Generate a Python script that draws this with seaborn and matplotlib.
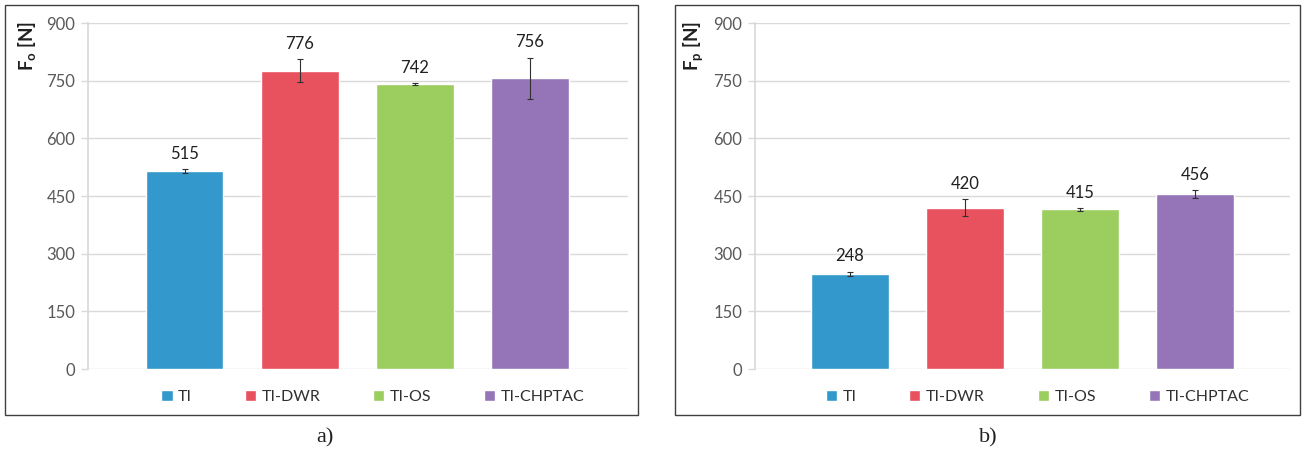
import numpy as np
import pandas as pd
import matplotlib
matplotlib.use("Agg")
import matplotlib.pyplot as plt
import seaborn as sns
from matplotlib.patches import Rectangle

# === Données ===
samples = ["TI", "TI-DWR", "TI-OS", "TI-CHPTAC"]
fo_mean = [515, 776, 742, 756]
fo_sd = [4, 30, 2, 54]
fp_mean = [248, 420, 415, 456]
fp_sd = [5, 22, 3, 10]
y_ticks = [0, 150, 300, 450, 600, 750, 900]
panel_labels = ["a)", "b)"]
y_labels = [r"$\mathbf{F_o}$ [N]", r"$\mathbf{F_p}$ [N]"]

colors = ["#3399cc", "#e8525e", "#9bcd5f", "#9575b8"]

# === Style ===
sns.set_theme(style="white")
plt.rcParams["font.family"] = ["Lato", "DejaVu Sans"]
plt.rcParams["mathtext.fontset"] = "custom"
plt.rcParams["mathtext.bf"] = "Lato:bold"
plt.rcParams["mathtext.rm"] = "Lato"

W, H = 1305, 451
fig = plt.figure(figsize=(W / 100, H / 100), dpi=100)

# axes placement (pixels -> figure fraction)
ax_a = fig.add_axes([88 / W, 1 - 369 / H, 540 / W, 346 / H])
ax_b = fig.add_axes([755 / W, 1 - 369 / H, 535 / W, 346 / H])

panels = [
    (ax_a, fo_mean, fo_sd, panel_labels[0], y_labels[0], (-0.843, 3.852), (5, 638), 325),
    (ax_b, fp_mean, fp_sd, panel_labels[1], y_labels[1], (-0.826, 3.826), (675, 1300), 988),
]

for ax, means, sds, plabel, ylab, xlim, frame_x, lab_x in panels:
    df = pd.DataFrame({"sample": samples, "force": means})
    sns.barplot(data=df, x="sample", y="force", hue="sample", palette=colors,
                saturation=1, width=0.67, errorbar=None, legend=True, ax=ax, zorder=3)
    ax.errorbar(np.arange(len(samples)), means, yerr=sds, fmt="none",
                ecolor="#303030", elinewidth=0.8, capsize=2, capthick=0.8, zorder=4)

    for i, (v, e) in enumerate(zip(means, sds)):
        ax.annotate(f"{v}", xy=(i, v + e), xytext=(0, 11), textcoords="offset points",
                    ha="center", va="center", fontsize=12, color="#202020")

    ax.set_ylim(0, 900)
    ax.set_yticks(y_ticks)
    ax.set_xlim(*xlim)
    ax.set_xticks([])
    ax.set_xlabel("")
    ax.yaxis.grid(True, color="#d9d9d9", lw=1, zorder=0)
    ax.set_axisbelow(True)
    for s in ["top", "right", "bottom"]:
        ax.spines[s].set_visible(False)
    ax.spines["left"].set_color("#d9d9d9")
    ax.tick_params(axis="y", left=True, length=5, width=1, color="#d9d9d9",
                   labelsize=12, labelcolor="#595959", pad=4)

    ax.set_ylabel(ylab, fontsize=13.5, fontweight="bold", color="#202020")
    ax.yaxis.set_label_coords(-0.093, 0.934)

    sns.move_legend(ax, "center", bbox_to_anchor=(0.528, -0.081), ncol=4, frameon=False,
                    title=None, handlelength=0.7, handleheight=0.7, handletextpad=0.35,
                    columnspacing=3.3, fontsize=11.5, labelcolor="#303030")

    # cadre du panneau
    fig.patches.append(Rectangle((frame_x[0] / W, 1 - 415 / H), (frame_x[1] - frame_x[0]) / W,
                                 410 / H, transform=fig.transFigure, fill=False,
                                 edgecolor="#404040", lw=1))
    fig.text(lab_x / W, 1 - 438 / H, plabel, family="Liberation Serif", fontsize=16,
             ha="center", va="center", color="#202020")

fig.savefig("out.png", dpi=100)
